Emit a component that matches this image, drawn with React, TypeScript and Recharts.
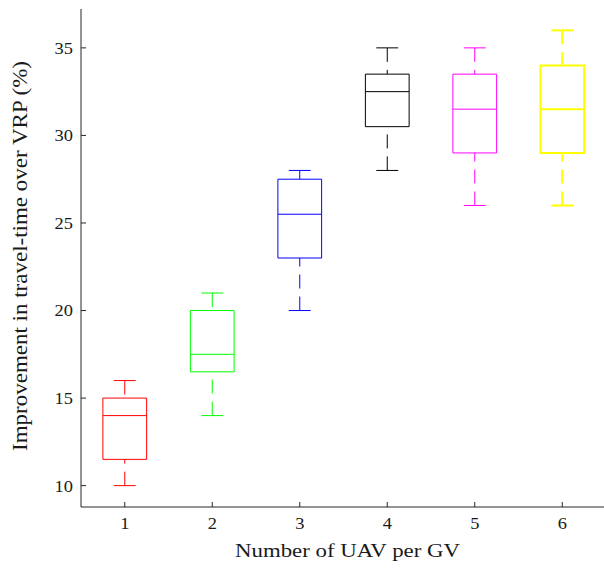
import React from 'react';
import { ComposedChart, XAxis, YAxis, ReferenceArea, ReferenceLine, Scatter } from 'recharts';

const categories = [1, 2, 3, 4, 5, 6];
const mins = [10, 14, 20, 28, 26, 26];
const q1s = [11.5, 16.5, 23, 30.5, 29, 29];
const medians = [14, 17.5, 25.5, 32.5, 31.5, 31.5];
const q3s = [15, 20, 27.5, 33.5, 33.5, 34];
const maxs = [16, 21, 28, 35, 35, 36];
const colors = ['#ff0000', '#00ff00', '#0000ff', '#000000', '#ff00ff', '#ffff00'];
const lineWidths = [1, 1, 1, 1, 1, 2];
const yTicks = [10, 15, 20, 25, 30, 35];
const xTicks = [1, 2, 3, 4, 5, 6];
const yDomain = [8.78, 37.22];
const xDomain = [0.5, 6.5];
const xLabel = 'Number of UAV per GV';
const yLabel = 'Improvement in travel-time over VRP (%)';

const BOX_HALF = 0.25;
const CAP_HALF = 0.125;
const AXIS = '#262626';
const TEXT = '#1a1a1a';
const FONT = '"Liberation Serif", serif';
const DIGIT_W = 9.2;

const medianPoints = categories.map((c, i) => ({ x: c, y: medians[i] }));

const YTick = (props: any) => {
  const s = String(props.payload.value);
  return (
    <text x={props.x} y={props.y} dy="0.36em" textAnchor="end" fill={TEXT} fontSize={16.5} fontFamily={FONT}
      textLength={s.length * DIGIT_W} lengthAdjust="spacingAndGlyphs">{s}</text>
  );
};

const XTick = (props: any) => {
  const s = String(props.payload.value);
  return (
    <text x={props.x} y={props.y} textAnchor="middle" fill={TEXT} fontSize={16.5} fontFamily={FONT}
      textLength={s.length * DIGIT_W} lengthAdjust="spacingAndGlyphs">{s}</text>
  );
};

const XLabel = () => (
  <text x={347.5} y={557} textAnchor="middle" fill={TEXT} fontSize={18} fontFamily={FONT}
    textLength={225} lengthAdjust="spacingAndGlyphs">{xLabel}</text>
);

const YLabel = () => (
  <text x={0} y={0} transform="translate(27 256) rotate(-90) scale(1 1.15)" textAnchor="middle" fill={TEXT} fontSize={19} fontFamily={FONT}
    textLength={390} lengthAdjust="spacingAndGlyphs">{yLabel}</text>
);

export default function App() {
  const marks: React.ReactNode[] = [];
  categories.forEach((c, i) => {
    const col = colors[i];
    const sw = lineWidths[i];
    marks.push(
      <ReferenceArea key={`box${i}`} x1={c - BOX_HALF} x2={c + BOX_HALF} y1={q1s[i]} y2={q3s[i]}
        fill="none" fillOpacity={0} stroke={col} strokeWidth={sw} strokeOpacity={1} />
    );
    marks.push(
      <ReferenceLine key={`med${i}`} segment={[{ x: c - BOX_HALF, y: medians[i] }, { x: c + BOX_HALF, y: medians[i] }]}
        stroke={col} strokeWidth={sw} />
    );
    marks.push(
      <ReferenceLine key={`wu${i}`} segment={[{ x: c, y: maxs[i] }, { x: c, y: q3s[i] }]}
        stroke={col} strokeWidth={sw} strokeDasharray="14 8" />
    );
    marks.push(
      <ReferenceLine key={`wl${i}`} segment={[{ x: c, y: mins[i] }, { x: c, y: q1s[i] }]}
        stroke={col} strokeWidth={sw} strokeDasharray="14 8" />
    );
    marks.push(
      <ReferenceLine key={`cu${i}`} segment={[{ x: c - CAP_HALF, y: maxs[i] }, { x: c + CAP_HALF, y: maxs[i] }]}
        stroke={col} strokeWidth={sw} />
    );
    marks.push(
      <ReferenceLine key={`cl${i}`} segment={[{ x: c - CAP_HALF, y: mins[i] }, { x: c + CAP_HALF, y: mins[i] }]}
        stroke={col} strokeWidth={sw} />
    );
  });

  return (
    <div style={{ position: 'fixed', left: 0, top: 0, width: 604, height: 568, overflow: 'hidden', background: '#fff' }}>
      <ComposedChart width={620} height={568} margin={{ top: 9, right: 14, bottom: 0, left: 0 }} data={medianPoints}>
        <XAxis xAxisId={0} type="number" dataKey="x" domain={xDomain} ticks={xTicks} allowDataOverflow
          height={61} tickSize={-5} tickMargin={27} stroke={AXIS} strokeWidth={1}
          tick={XTick} label={XLabel} />
        <XAxis xAxisId="top" orientation="top" type="number" domain={xDomain} ticks={xTicks} allowDataOverflow
          height={0} tickSize={-5} stroke={AXIS} tick={false} />
        <YAxis yAxisId={0} type="number" domain={yDomain} ticks={yTicks} allowDataOverflow
          width={81} tickSize={-5} tickMargin={13} stroke={AXIS}
          tick={YTick} label={YLabel} />
        <YAxis yAxisId="right" orientation="right" type="number" domain={yDomain} ticks={yTicks} allowDataOverflow
          width={0} tickSize={-5} stroke={AXIS} tick={false} />
        <Scatter xAxisId={0} yAxisId={0} dataKey="y" isAnimationActive={false} shape={() => <g />} />
        {marks}
      </ComposedChart>
    </div>
  );
}
